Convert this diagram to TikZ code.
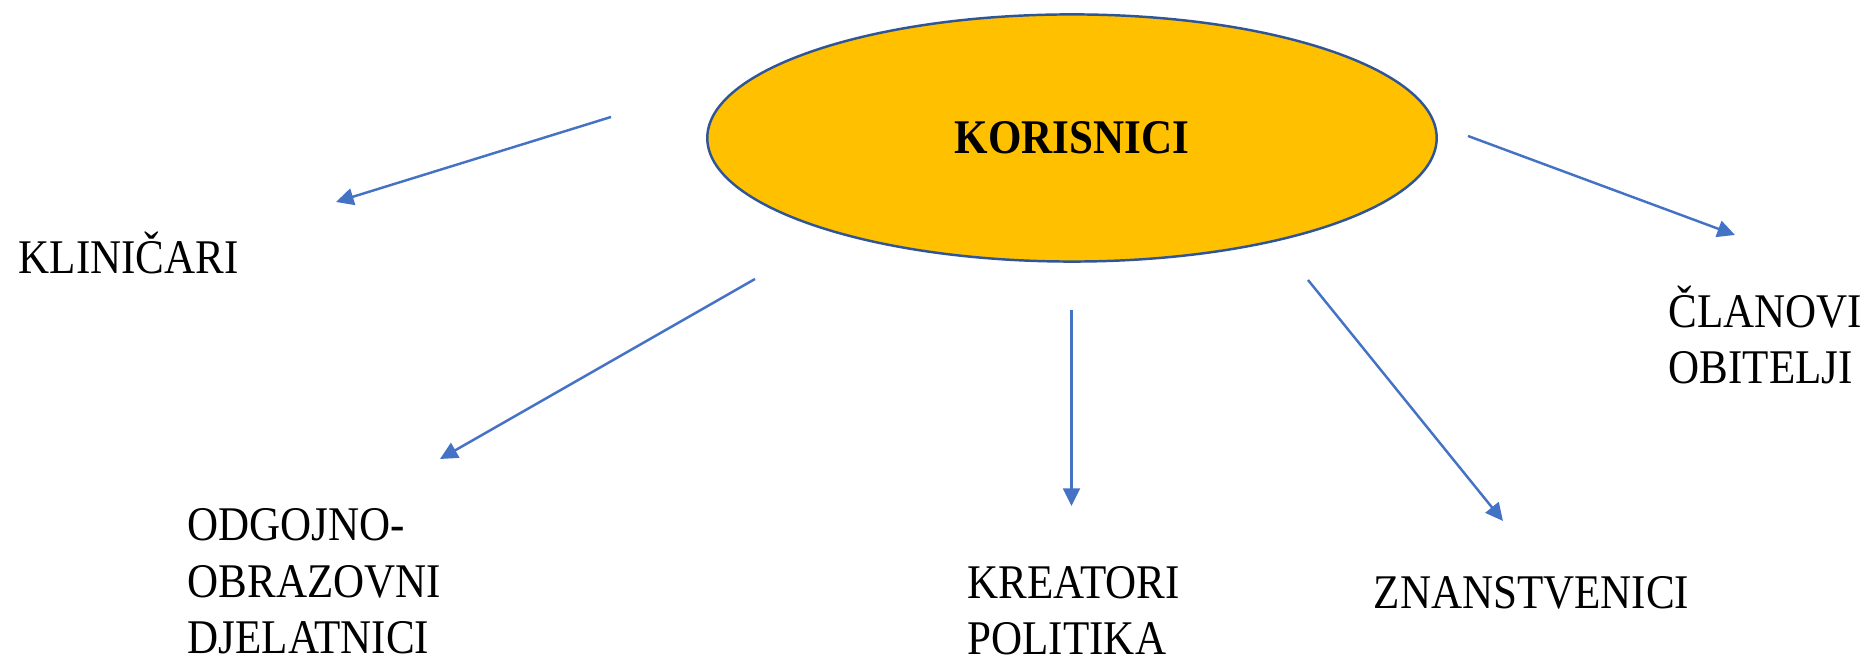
\documentclass[tikz,border=0pt]{standalone}
\usepackage{fontspec}
\setmainfont{Liberation Serif}[FakeStretch=0.89]
\usepackage{tikz}
\usetikzlibrary{shapes.geometric,arrows.meta}
\definecolor{zlatna}{HTML}{FFC000}
\definecolor{rub}{HTML}{2F5597}
\definecolor{plava}{HTML}{4472C4}

\begin{document}
\begin{tikzpicture}[x=0.01cm,y=-0.01cm]
\tikzstyle{elipsa}=[ellipse,draw=rub,fill=zlatna,line width=0.7pt,minimum width=7.29cm,minimum height=2.47cm,inner sep=0pt,font=\fontsize{13.75}{16.2}\selectfont\bfseries]
\tikzstyle{grupa}=[align=left,anchor=base west,inner sep=0pt,font=\fontsize{13.75}{16.2}\selectfont]
\tikzstyle{strelica}=[draw=plava,line width=0.7pt,-{Triangle[length=5pt,width=4.8pt]}]
\useasboundingbox (0,0) rectangle (1871,659);
\node [elipsa] (kor) at (1072,138) {KORISNICI};
\node [grupa] (klin) at (18,274) {KLINIČARI};
\node [grupa] (odg) at (187,654) {ODGOJNO-\\OBRAZOVNI\\DJELATNICI};
\node [grupa] (kre) at (967,655) {KREATORI\\POLITIKA};
\node [grupa] (zna) at (1373,609) {ZNANSTVENICI};
\node [grupa] (cla) at (1668,384) {ČLANOVI\\OBITELJI};
\coordinate (p1) at (611,117);
\coordinate (k1) at (336,202);
\coordinate (p2) at (755,279);
\coordinate (k2) at (440,459);
\coordinate (p3) at (1071.5,310);
\coordinate (k3) at (1071.5,506);
\coordinate (p4) at (1308,280);
\coordinate (k4) at (1503,521);
\coordinate (p5) at (1468,136);
\coordinate (k5) at (1735,235);
\draw [strelica] (p1) -- (k1);
\draw [strelica] (p2) -- (k2);
\draw [strelica] (p3) -- (k3);
\draw [strelica] (p4) -- (k4);
\draw [strelica] (p5) -- (k5);
\end{tikzpicture}
\end{document}
